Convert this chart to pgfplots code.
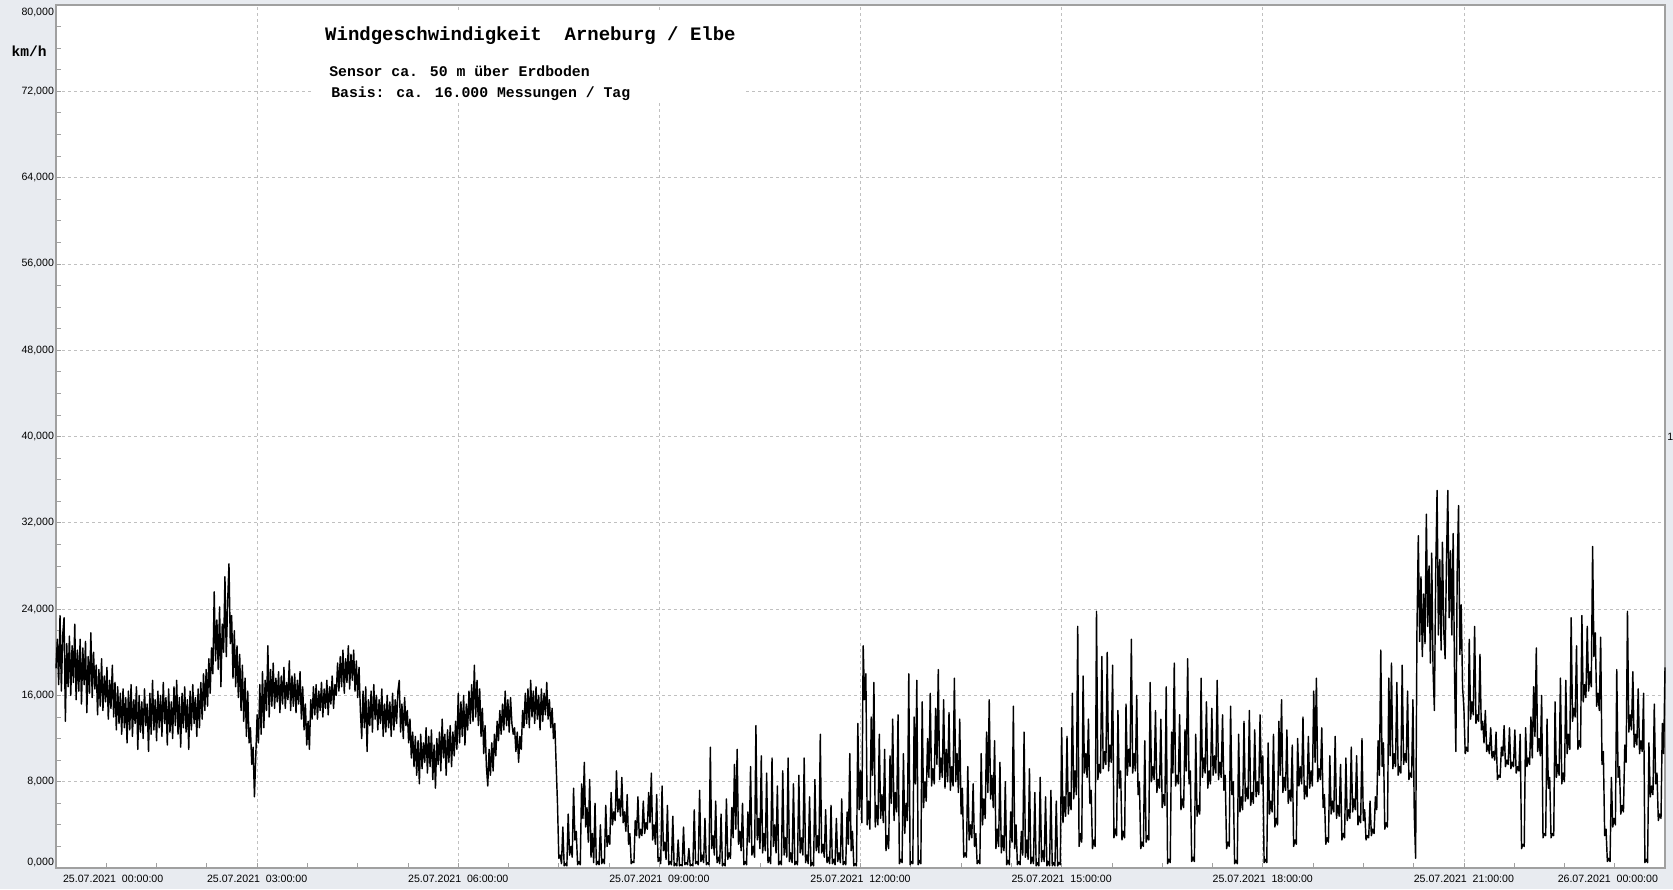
\documentclass[border=0pt]{standalone}
\usepackage{fontspec}
\setmainfont{Liberation Sans}
\newfontfamily\mono{Liberation Mono}
\usepackage{pgfplots}
\pgfplotsset{compat=1.18}
\definecolor{bgc}{RGB}{232,235,240}
\definecolor{axc}{RGB}{160,160,160}
\definecolor{gridc}{RGB}{192,192,192}
\newcommand{\tl}{\fontsize{5.3}{6}\selectfont}
\begin{document}
\begin{tikzpicture}
\fill[bgc] (-28pt,-10.5pt) rectangle (808.5pt,434pt);
\begin{axis}[
    at={(0,0)}, anchor=south west, scale only axis,
    width=804.5pt, height=431.5pt,
    xmin=0, xmax=24, ymin=0, ymax=80,
    axis background/.style={fill=white},
    clip=false,
    xtick={0,3,...,24}, minor x tick num=3,
    ytick={0,8,...,80}, minor y tick num=3,
    tick pos=left, tick align=inside,
    major tick length=2.4pt, minor tick length=2.4pt,
    tick style={axc, line width=0.4pt},
    axis line style={axc, line width=0.6pt},
    grid=major,
    major grid style={gridc, line width=0.4pt, dash pattern=on 1.5pt off 1.5pt},
    xticklabels={{},{25.07.2021\ \ 03:00:00},{25.07.2021\ \ 06:00:00},{25.07.2021\ \ 09:00:00},{25.07.2021\ \ 12:00:00},{25.07.2021\ \ 15:00:00},{25.07.2021\ \ 18:00:00},{25.07.2021\ \ 21:00:00},{}},
    yticklabels={{},{8,000},{16,000},{24,000},{32,000},{40,000},{48,000},{56,000},{64,000},{72,000},{}},
    ticklabel style={font=\tl},
    yticklabel style={xshift=2.5pt},
]
% Windgeschwindigkeit km/h, 25.07.2021, Zeit in Stunden
\addplot[black, line width=0.72pt, line join=round] coordinates {
(0.00,18.5)(0.02,21.2)(0.04,17.0)(0.06,23.4)(0.08,16.4)(0.10,21.6)(0.12,23.2)(0.14,13.6)(0.16,20.8)(0.18,16.8)(0.20,21.5)(0.22,16.0)(0.24,20.6)
(0.26,17.2)(0.28,22.6)(0.30,15.6)(0.32,20.2)(0.34,16.4)(0.36,21.2)(0.38,15.2)(0.40,20.4)(0.42,17.0)(0.44,21.0)(0.46,14.4)(0.48,19.6)(0.50,16.2)
(0.52,21.8)(0.54,15.8)(0.56,20.0)(0.58,16.6)(0.60,18.8)(0.62,14.2)(0.64,18.4)(0.66,15.0)(0.68,19.4)(0.70,14.6)(0.72,17.8)(0.74,15.4)(0.76,18.6)
(0.78,13.8)(0.80,17.4)(0.82,14.8)(0.84,18.8)(0.86,14.0)(0.88,17.2)(0.90,12.8)(0.92,16.8)(0.94,13.4)(0.96,16.2)(0.98,12.4)
(1.00,16.6)(1.02,13.0)(1.04,15.8)(1.06,11.6)(1.08,16.4)(1.10,12.8)(1.12,17.0)(1.14,12.2)(1.16,15.6)(1.18,13.4)(1.20,16.8)(1.22,11.0)(1.24,16.0)
(1.26,12.6)(1.28,15.4)(1.30,12.0)(1.32,16.6)(1.34,13.2)(1.36,15.2)(1.38,10.8)(1.40,16.2)(1.42,12.4)(1.44,17.4)(1.46,12.8)(1.48,15.6)(1.50,11.8)
(1.52,16.4)(1.54,13.0)(1.56,16.0)(1.58,12.2)(1.60,17.2)(1.62,13.4)(1.64,15.8)(1.66,11.4)(1.68,16.6)(1.70,12.6)(1.72,15.4)(1.74,12.0)(1.76,16.8)
(1.78,13.2)(1.80,17.4)(1.82,12.4)(1.84,15.8)(1.86,11.2)(1.88,16.2)(1.90,13.0)(1.92,16.8)(1.94,12.6)(1.96,15.6)(1.98,11.0)
(2.00,16.4)(2.02,12.8)(2.04,17.0)(2.06,13.4)(2.08,15.8)(2.10,12.2)(2.12,16.6)(2.14,13.0)(2.16,17.2)(2.18,13.8)(2.20,18.0)(2.22,14.6)(2.24,18.4)
(2.26,15.0)(2.28,19.4)(2.30,16.2)(2.32,20.4)(2.34,18.0)(2.36,25.6)(2.38,19.2)(2.40,23.0)(2.42,18.4)(2.44,24.2)(2.46,16.8)(2.48,22.6)(2.50,20.0)
(2.52,27.0)(2.54,19.6)(2.56,24.6)(2.58,28.2)(2.60,20.8)(2.62,23.4)(2.64,17.6)(2.66,22.0)(2.68,16.8)(2.70,20.6)(2.72,15.8)(2.74,19.8)(2.76,14.6)
(2.78,18.8)(2.80,13.6)(2.82,17.6)(2.84,12.2)(2.86,16.4)(2.88,11.6)(2.90,13.0)(2.92,9.6)(2.94,11.2)(2.96,6.6)(2.98,10.4)
(3.00,14.2)(3.02,11.6)(3.04,17.0)(3.06,12.4)(3.08,18.2)(3.10,13.0)(3.12,17.4)(3.14,14.6)(3.16,20.6)(3.18,14.0)(3.20,18.4)(3.22,15.0)(3.24,19.0)
(3.26,14.8)(3.28,17.6)(3.30,15.4)(3.32,18.2)(3.34,14.4)(3.36,17.8)(3.38,15.2)(3.40,18.6)(3.42,14.8)(3.44,17.2)(3.46,15.6)(3.48,19.2)(3.50,14.6)
(3.52,17.8)(3.54,15.0)(3.56,18.0)(3.58,14.4)(3.60,17.4)(3.62,15.2)(3.64,18.2)(3.66,13.8)(3.68,16.8)(3.70,12.8)(3.72,15.2)(3.74,11.4)(3.76,13.6)
(3.78,11.0)(3.80,15.6)(3.82,13.8)(3.84,16.8)(3.86,14.2)(3.88,17.0)(3.90,13.8)(3.92,16.4)(3.94,14.6)(3.96,17.2)(3.98,14.0)
(4.00,16.6)(4.02,14.8)(4.04,17.4)(4.06,14.2)(4.08,16.8)(4.10,15.2)(4.12,17.8)(4.14,14.8)(4.16,17.0)(4.18,16.0)(4.20,19.0)(4.22,16.4)(4.24,19.6)
(4.26,16.8)(4.28,20.2)(4.30,16.2)(4.32,19.4)(4.34,17.2)(4.36,20.6)(4.38,16.6)(4.40,19.8)(4.42,17.4)(4.44,20.2)(4.46,16.4)(4.48,19.2)(4.50,15.8)
(4.52,18.6)(4.54,14.6)(4.56,12.0)(4.58,16.4)(4.60,13.0)(4.62,16.8)(4.64,10.8)(4.66,15.6)(4.68,13.2)(4.70,16.4)(4.72,12.6)(4.74,17.0)(4.76,13.8)
(4.78,16.0)(4.80,12.8)(4.82,15.6)(4.84,13.4)(4.86,16.6)(4.88,12.2)(4.90,15.2)(4.92,12.6)(4.94,16.0)(4.96,13.0)(4.98,15.4)
(5.00,12.2)(5.02,16.2)(5.04,12.8)(5.06,15.6)(5.08,13.4)(5.10,16.4)(5.12,17.4)(5.14,12.6)(5.16,15.2)(5.18,12.0)(5.20,15.8)(5.22,13.2)(5.24,14.6)
(5.26,11.6)(5.28,13.8)(5.30,10.2)(5.32,12.6)(5.34,9.4)(5.36,12.2)(5.38,8.6)(5.40,11.8)(5.42,7.8)(5.44,12.4)(5.46,9.2)(5.48,11.6)(5.50,9.8)
(5.52,13.0)(5.54,8.8)(5.56,12.2)(5.58,9.4)(5.60,12.8)(5.62,8.2)(5.64,11.4)(5.66,7.4)(5.68,12.0)(5.70,9.6)(5.72,12.6)(5.74,9.0)(5.76,13.8)
(5.78,10.2)(5.80,12.4)(5.82,8.6)(5.84,12.8)(5.86,9.8)(5.88,13.2)(5.90,9.4)(5.92,12.6)(5.94,10.4)(5.96,13.6)(5.98,11.0)
(6.00,16.2)(6.02,11.6)(6.04,15.4)(6.06,12.2)(6.08,16.0)(6.10,11.4)(6.12,15.2)(6.14,12.8)(6.16,16.4)(6.18,13.4)(6.20,17.0)(6.22,13.6)(6.24,18.8)
(6.26,14.0)(6.28,17.4)(6.30,13.2)(6.32,16.6)(6.34,12.2)(6.36,14.8)(6.38,10.6)(6.40,13.2)(6.42,9.4)(6.44,7.6)(6.46,11.0)(6.48,8.6)(6.50,11.6)
(6.52,9.0)(6.54,12.4)(6.56,10.4)(6.58,13.6)(6.60,11.8)(6.62,14.6)(6.64,12.4)(6.66,15.2)(6.68,12.8)(6.70,16.4)(6.72,13.2)(6.74,15.6)(6.76,12.6)
(6.78,15.8)(6.80,13.4)(6.82,12.4)(6.84,13.0)(6.86,10.8)(6.88,12.6)(6.90,9.8)(6.92,12.2)(6.94,11.0)(6.96,14.6)(6.98,13.0)
(7.00,16.2)(7.02,13.4)(7.04,16.6)(7.06,13.0)(7.08,17.4)(7.10,14.0)(7.12,16.4)(7.14,13.4)(7.16,16.8)(7.18,13.8)(7.20,16.0)(7.22,12.8)(7.24,16.6)
(7.26,13.6)(7.28,16.2)(7.30,14.2)(7.32,17.2)(7.34,13.8)(7.36,15.6)(7.38,13.0)(7.40,14.8)(7.42,12.0)(7.44,13.4)(7.46,9.6)(7.48,6.0)
(7.50,0.9)(7.52,1.2)(7.54,0.4)(7.56,3.8)(7.58,0.2)(7.60,0.4)(7.62,0.2)(7.64,5.0)(7.66,1.2)(7.68,2.0)(7.70,1.0)(7.72,7.4)(7.74,2.6)
(7.76,3.4)(7.78,0.3)(7.80,0.6)(7.82,0.3)(7.84,7.8)(7.86,4.6)(7.88,9.8)(7.90,3.8)(7.92,5.6)(7.94,2.4)(7.96,8.2)(7.98,1.0)
(8.00,3.2)(8.02,0.5)(8.04,6.0)(8.06,0.3)(8.08,0.6)(8.10,0.3)(8.12,4.0)(8.14,0.4)(8.16,0.8)(8.18,0.4)(8.20,5.8)(8.22,2.0)(8.24,3.0)
(8.26,2.2)(8.28,7.0)(8.30,4.0)(8.32,5.2)(8.34,4.4)(8.36,9.0)(8.38,5.2)(8.40,6.4)(8.42,4.8)(8.44,8.4)(8.46,4.2)(8.48,5.2)(8.50,3.4)
(8.52,6.8)(8.54,2.2)(8.56,3.2)(8.58,0.4)(8.60,0.6)(8.62,0.5)(8.64,4.4)(8.66,3.0)(8.68,6.6)(8.70,2.8)(8.72,3.6)(8.74,3.0)(8.76,6.2)
(8.78,3.2)(8.80,4.2)(8.82,3.6)(8.84,7.0)(8.86,4.2)(8.88,8.8)(8.90,2.6)(8.92,4.0)(8.94,2.2)(8.96,6.8)(8.98,0.6)
(9.00,1.0)(9.02,0.4)(9.04,7.6)(9.06,1.6)(9.08,2.4)(9.10,0.8)(9.12,5.8)(9.14,0.3)(9.16,0.6)(9.18,0.3)(9.20,4.8)(9.22,0.2)(9.24,0.4)
(9.26,0.2)(9.28,2.6)(9.30,0.2)(9.32,0.3)(9.34,0.2)(9.36,3.8)(9.38,0.3)(9.40,0.5)(9.42,0.3)(9.44,1.8)(9.46,0.2)(9.48,0.3)(9.50,0.2)
(9.52,5.4)(9.54,0.4)(9.56,0.6)(9.58,0.3)(9.60,7.2)(9.62,0.6)(9.64,1.2)(9.66,0.5)(9.68,4.6)(9.70,0.3)(9.72,0.5)(9.74,0.3)(9.76,11.2)
(9.78,1.8)(9.80,3.0)(9.82,1.2)(9.84,6.2)(9.86,0.5)(9.88,1.0)(9.90,0.4)(9.92,5.0)(9.94,0.2)(9.96,0.4)(9.98,0.2)
(10.00,6.4)(10.02,0.8)(10.04,1.4)(10.06,0.9)(10.08,5.6)(10.10,2.8)(10.12,9.6)(10.14,3.6)(10.16,11.0)(10.18,2.2)(10.20,3.4)(10.22,1.6)(10.24,6.0)
(10.26,0.3)(10.28,0.6)(10.30,0.3)(10.32,5.2)(10.34,2.4)(10.36,9.4)(10.38,1.2)(10.40,2.0)(10.42,1.0)(10.44,13.2)(10.46,2.6)(10.48,4.6)(10.50,1.8)
(10.52,10.4)(10.54,1.4)(10.56,3.2)(10.58,1.6)(10.60,8.8)(10.62,0.5)(10.64,1.0)(10.66,0.4)(10.68,10.2)(10.70,2.0)(10.72,4.0)(10.74,1.4)(10.76,7.6)
(10.78,0.3)(10.80,0.6)(10.82,0.3)(10.84,9.0)(10.86,1.2)(10.88,2.8)(10.90,1.0)(10.92,10.2)(10.94,0.6)(10.96,1.4)(10.98,0.5)
(11.00,7.8)(11.02,0.3)(11.04,0.6)(11.06,0.3)(11.08,8.6)(11.10,1.4)(11.12,2.8)(11.14,1.2)(11.16,10.2)(11.18,0.5)(11.20,1.2)(11.22,0.4)(11.24,6.6)
(11.26,0.2)(11.28,0.5)(11.30,0.2)(11.32,8.2)(11.34,1.6)(11.36,3.0)(11.38,1.4)(11.40,12.4)(11.42,1.4)(11.44,2.2)(11.46,1.0)(11.48,5.4)(11.50,0.5)
(11.52,1.0)(11.54,0.4)(11.56,5.8)(11.58,0.4)(11.60,0.8)(11.62,0.3)(11.64,4.6)(11.66,0.6)(11.68,1.4)(11.70,0.5)(11.72,6.4)(11.74,0.3)(11.76,0.6)
(11.78,0.3)(11.80,5.2)(11.82,2.2)(11.84,10.6)(11.86,1.6)(11.88,3.4)(11.90,0.2)(11.92,0.4)(11.94,0.2)(11.96,13.4)(11.98,5.4)
(12.00,9.0)(12.02,4.2)(12.04,20.6)(12.06,15.6)(12.08,18.0)(12.10,4.0)(12.12,6.2)(12.14,3.6)(12.16,14.0)(12.18,8.6)(12.20,17.2)(12.22,3.8)(12.24,5.8)
(12.26,4.0)(12.28,12.4)(12.30,4.6)(12.32,6.8)(12.34,4.2)(12.36,11.0)(12.38,1.6)(12.40,3.0)(12.42,1.8)(12.44,10.4)(12.46,6.0)(12.48,13.8)(12.50,4.4)
(12.52,7.0)(12.54,5.2)(12.56,14.2)(12.58,0.4)(12.60,0.8)(12.62,0.5)(12.64,10.6)(12.66,3.2)(12.68,6.0)(12.70,4.4)(12.72,18.0)(12.74,0.3)(12.76,0.6)
(12.78,0.4)(12.80,14.0)(12.82,7.8)(12.84,17.4)(12.86,0.3)(12.88,0.7)(12.90,0.4)(12.92,15.4)(12.94,5.6)(12.96,8.0)(12.98,6.2)
(13.00,12.0)(13.02,8.4)(13.04,16.2)(13.06,7.6)(13.08,9.2)(13.10,7.8)(13.12,14.8)(13.14,9.6)(13.16,18.4)(13.18,8.2)(13.20,10.2)(13.22,8.4)(13.24,15.6)
(13.26,7.4)(13.28,11.0)(13.30,8.0)(13.32,14.4)(13.34,7.2)(13.36,9.4)(13.38,7.6)(13.40,17.6)(13.42,8.0)(13.44,10.6)(13.46,7.0)(13.48,13.8)(13.50,5.0)
(13.52,7.4)(13.54,1.0)(13.56,1.4)(13.58,1.0)(13.60,9.4)(13.62,2.6)(13.64,4.0)(13.66,2.8)(13.68,7.8)(13.70,2.0)(13.72,3.2)(13.74,0.4)(13.76,0.7)
(13.78,0.4)(13.80,10.6)(13.82,4.0)(13.84,6.4)(13.86,4.6)(13.88,12.6)(13.90,7.0)(13.92,15.6)(13.94,6.4)(13.96,8.6)(13.98,5.6)
(14.00,11.8)(14.02,1.8)(14.04,3.6)(14.06,2.0)(14.08,9.8)(14.10,1.4)(14.12,3.0)(14.14,1.6)(14.16,8.0)(14.18,0.3)(14.20,0.7)(14.22,0.3)(14.24,5.2)
(14.26,2.4)(14.28,15.0)(14.30,1.8)(14.32,4.0)(14.34,0.3)(14.36,0.6)(14.38,0.3)(14.40,3.4)(14.42,1.2)(14.44,12.6)(14.46,1.0)(14.48,2.6)(14.50,0.8)
(14.52,9.2)(14.54,0.4)(14.56,1.0)(14.58,0.4)(14.60,7.0)(14.62,0.2)(14.64,0.5)(14.66,0.2)(14.68,8.4)(14.70,0.6)(14.72,1.6)(14.74,0.6)(14.76,6.6)
(14.78,0.2)(14.80,0.6)(14.82,0.2)(14.84,7.2)(14.86,0.2)(14.88,0.5)(14.90,0.2)(14.92,6.2)(14.94,0.2)(14.96,0.5)(14.98,0.3)
(15.00,13.0)(15.02,4.2)(15.04,6.6)(15.06,4.8)(15.08,12.2)(15.10,5.0)(15.12,7.0)(15.14,5.4)(15.16,16.2)(15.18,6.4)(15.20,9.0)(15.22,6.8)(15.24,22.4)
(15.26,2.0)(15.28,3.2)(15.30,2.4)(15.32,17.8)(15.34,8.8)(15.36,10.6)(15.38,8.4)(15.40,13.8)(15.42,6.0)(15.44,7.2)(15.46,1.8)(15.48,2.6)(15.50,2.0)
(15.52,23.8)(15.54,8.2)(15.56,9.6)(15.58,8.8)(15.60,19.6)(15.62,9.2)(15.64,10.8)(15.66,9.6)(15.68,20.0)(15.70,9.0)(15.72,11.4)(15.74,9.8)(15.76,18.8)
(15.78,2.8)(15.80,3.6)(15.82,3.0)(15.84,14.6)(15.86,7.4)(15.88,9.0)(15.90,2.6)(15.92,3.4)(15.94,2.8)(15.96,15.2)(15.98,8.6)
(16.00,11.0)(16.02,9.4)(16.04,21.2)(16.06,8.8)(16.08,10.6)(16.10,9.0)(16.12,16.0)(16.14,6.8)(16.16,8.0)(16.18,1.8)(16.20,2.4)(16.22,2.0)(16.24,11.8)
(16.26,2.4)(16.28,3.0)(16.30,2.6)(16.32,17.2)(16.34,8.0)(16.36,9.4)(16.38,8.2)(16.40,14.6)(16.42,7.0)(16.44,8.2)(16.46,7.4)(16.48,13.8)(16.50,5.6)
(16.52,6.8)(16.54,5.8)(16.56,16.8)(16.58,0.4)(16.60,0.8)(16.62,0.5)(16.64,12.6)(16.66,8.8)(16.68,19.0)(16.70,7.6)(16.72,8.6)(16.74,7.8)(16.76,14.2)
(16.78,5.4)(16.80,6.4)(16.82,5.6)(16.84,12.8)(16.86,9.0)(16.88,19.4)(16.90,7.8)(16.92,9.0)(16.94,0.6)(16.96,1.0)(16.98,0.6)
(17.00,12.4)(17.02,4.8)(17.04,5.8)(17.06,5.0)(17.08,17.6)(17.10,8.4)(17.12,10.2)(17.14,8.8)(17.16,15.4)(17.18,7.4)(17.20,9.0)(17.22,7.8)(17.24,14.8)
(17.26,8.6)(17.28,10.4)(17.30,8.8)(17.32,17.4)(17.34,8.2)(17.36,9.8)(17.38,8.4)(17.40,14.2)(17.42,7.2)(17.44,8.6)(17.46,1.8)(17.48,2.4)(17.50,2.0)
(17.52,15.0)(17.54,6.8)(17.56,8.0)(17.58,0.4)(17.60,0.7)(17.62,0.4)(17.64,12.4)(17.66,5.2)(17.68,6.6)(17.70,5.4)(17.72,13.6)(17.74,6.2)(17.76,7.4)
(17.78,6.4)(17.80,14.6)(17.82,5.8)(17.84,7.0)(17.86,6.0)(17.88,12.8)(17.90,6.6)(17.92,8.0)(17.94,6.8)(17.96,14.2)(17.98,7.8)
(18.00,10.4)(18.02,0.5)(18.04,0.8)(18.06,0.5)(18.08,11.6)(18.10,5.0)(18.12,6.2)(18.14,5.2)(18.16,12.4)(18.18,3.8)(18.20,4.6)(18.22,4.0)(18.24,13.6)
(18.26,8.6)(18.28,15.6)(18.30,7.0)(18.32,8.4)(18.34,7.2)(18.36,12.8)(18.38,6.0)(18.40,7.2)(18.42,6.2)(18.44,11.4)(18.46,2.0)(18.48,2.6)(18.50,2.2)
(18.52,12.0)(18.54,7.6)(18.56,9.4)(18.58,7.8)(18.60,14.0)(18.62,6.4)(18.64,7.6)(18.66,6.6)(18.68,12.2)(18.70,7.4)(18.72,9.0)(18.74,7.6)(18.76,16.4)
(18.78,9.8)(18.80,17.6)(18.82,8.0)(18.84,9.2)(18.86,8.2)(18.88,13.0)(18.90,5.6)(18.92,6.8)(18.94,2.2)(18.96,2.8)(18.98,2.4)
(19.00,10.4)(19.02,5.0)(19.04,6.2)(19.06,5.2)(19.08,12.2)(19.10,4.6)(19.12,5.8)(19.14,4.8)(19.16,9.6)(19.18,2.6)(19.20,3.2)(19.22,2.8)(19.24,10.2)
(19.26,4.4)(19.28,5.4)(19.30,4.6)(19.32,11.2)(19.34,5.2)(19.36,6.4)(19.38,5.4)(19.40,10.4)(19.42,4.0)(19.44,4.8)(19.46,4.2)(19.48,12.0)(19.50,4.4)
(19.52,5.4)(19.54,2.6)(19.56,3.0)(19.58,2.8)(19.60,6.2)(19.62,3.0)(19.64,3.6)(19.66,3.2)(19.68,6.6)(19.70,5.4)(19.72,11.8)(19.74,8.6)(19.76,20.2)
(19.78,9.4)(19.80,11.6)(19.82,3.6)(19.84,4.2)(19.86,3.8)(19.88,17.6)(19.90,10.4)(19.92,19.0)(19.94,9.2)(19.96,10.6)(19.98,9.4)
(20.00,17.2)(20.02,8.6)(20.04,9.4)(20.06,8.8)(20.08,18.8)(20.10,9.6)(20.12,10.6)(20.14,9.8)(20.16,16.4)(20.18,8.2)(20.20,8.8)(20.22,8.4)(20.24,15.6)
(20.26,5.0)(20.28,0.9)(20.30,22.0)(20.32,30.8)(20.34,21.0)(20.36,27.0)(20.38,19.6)(20.40,25.4)(20.42,20.8)(20.44,32.8)(20.46,22.4)(20.48,28.0)(20.50,19.0)
(20.52,29.2)(20.54,18.4)(20.56,14.6)(20.58,27.6)(20.60,35.0)(20.62,21.6)(20.64,28.6)(20.66,20.2)(20.68,30.2)(20.70,22.0)(20.72,19.4)(20.74,28.4)(20.76,35.0)
(20.78,23.2)(20.80,29.4)(20.82,21.6)(20.84,31.0)(20.86,18.2)(20.88,10.8)(20.90,27.4)(20.92,33.6)(20.94,19.8)(20.96,24.4)(20.98,16.8)
(21.00,14.8)(21.02,10.6)(21.04,11.2)(21.06,10.8)(21.08,21.2)(21.10,13.8)(21.12,15.4)(21.14,14.2)(21.16,22.4)(21.18,13.4)(21.20,14.2)(21.22,13.6)(21.24,19.8)
(21.26,12.8)(21.28,13.6)(21.30,11.6)(21.32,14.6)(21.34,10.8)(21.36,11.4)(21.38,10.6)(21.40,13.0)(21.42,10.2)(21.44,10.8)(21.46,10.0)(21.48,12.6)(21.50,8.2)
(21.52,8.6)(21.54,8.4)(21.56,11.2)(21.58,10.4)(21.60,13.2)(21.62,9.4)(21.64,10.0)(21.66,9.6)(21.68,13.0)(21.70,9.2)(21.72,9.8)(21.74,9.4)(21.76,12.8)
(21.78,8.8)(21.80,9.4)(21.82,9.0)(21.84,12.4)(21.86,1.8)(21.88,2.2)(21.90,2.0)(21.92,13.0)(21.94,9.4)(21.96,10.2)(21.98,9.6)
(22.00,14.0)(22.02,10.2)(22.04,16.8)(22.06,12.2)(22.08,20.4)(22.10,10.8)(22.12,12.0)(22.14,10.4)(22.16,16.0)(22.18,2.8)(22.20,3.2)(22.22,3.0)(22.24,13.8)
(22.26,7.4)(22.28,8.4)(22.30,2.8)(22.32,3.2)(22.34,3.0)(22.36,15.4)(22.38,8.4)(22.40,9.6)(22.42,8.6)(22.44,17.6)(22.46,7.8)(22.48,8.8)(22.50,8.0)
(22.52,17.4)(22.54,10.6)(22.56,12.4)(22.58,11.0)(22.60,23.2)(22.62,13.6)(22.64,14.8)(22.66,14.0)(22.68,20.6)(22.70,11.0)(22.72,11.8)(22.74,11.2)(22.76,23.4)
(22.78,15.4)(22.80,17.0)(22.82,15.8)(22.84,22.4)(22.86,16.4)(22.88,18.2)(22.90,16.8)(22.92,29.8)(22.94,19.6)(22.96,21.8)(22.98,15.0)
(23.00,16.2)(23.02,14.6)(23.04,21.4)(23.06,9.6)(23.08,10.8)(23.10,3.0)(23.12,3.6)(23.14,0.6)(23.16,0.9)(23.18,0.6)(23.20,8.4)(23.22,3.8)(23.24,4.6)
(23.26,4.0)(23.28,18.4)(23.30,8.4)(23.32,9.4)(23.34,5.0)(23.36,5.8)(23.38,5.2)(23.40,11.4)(23.42,9.8)(23.44,23.8)(23.46,12.6)(23.48,14.2)(23.50,12.8)
(23.52,18.2)(23.54,11.2)(23.56,12.4)(23.58,11.4)(23.60,16.6)(23.62,10.6)(23.64,11.8)(23.66,10.8)(23.68,16.2)(23.70,0.5)(23.72,0.8)(23.74,0.5)(23.76,11.6)
(23.78,6.6)(23.80,7.6)(23.82,6.8)(23.84,15.2)(23.86,7.8)(23.88,8.8)(23.90,4.4)(23.92,5.0)(23.94,4.6)(23.96,13.4)(23.98,10.6)(24.00,18.6)
};
% Titelkasten
\fill[white] (axis cs:3.83,71.2) rectangle (axis cs:10.25,79.35);
\node[anchor=west, inner sep=0pt, font=\mono\bfseries\fontsize{9.5}{11}\selectfont] at (axis cs:4.01,77.2) {Windgeschwindigkeit\ \ Arneburg / Elbe};
\node[anchor=west, inner sep=0pt, font=\mono\bfseries\fontsize{7.4}{9}\selectfont] at (axis cs:4.07,73.85) {Sensor ca. 50 m über Erdboden};
\node[anchor=west, inner sep=0pt, font=\mono\bfseries\fontsize{7.4}{9}\selectfont] at (axis cs:4.10,71.75) {Basis: ca. 16.000 Messungen / Tag};
\node[inner sep=0pt, font=\mono\bfseries\fontsize{7.3}{9}\selectfont] at (axis cs:-0.40,75.7) {km/h};
% Randbeschriftungen
\node[anchor=north west, font=\tl] at (axis cs:0,0) {25.07.2021\ \ 00:00:00};
\node[anchor=north east, font=\tl] at (axis cs:24,0) {26.07.2021\ \ 00:00:00};
\node[anchor=east, font=\tl, xshift=2.5pt, yshift=3pt] at (axis cs:0,0) {0,000};
\node[anchor=east, font=\tl, xshift=2.5pt, yshift=-3.5pt] at (axis cs:0,80) {80,000};
\node[anchor=west, font=\tl, inner sep=0pt, xshift=1pt] at (axis cs:24,40) {1};
\end{axis}
\pgfresetboundingbox
\path[use as bounding box] (-28pt,-10.5pt) rectangle (808.5pt,434pt);
\end{tikzpicture}
\end{document}
